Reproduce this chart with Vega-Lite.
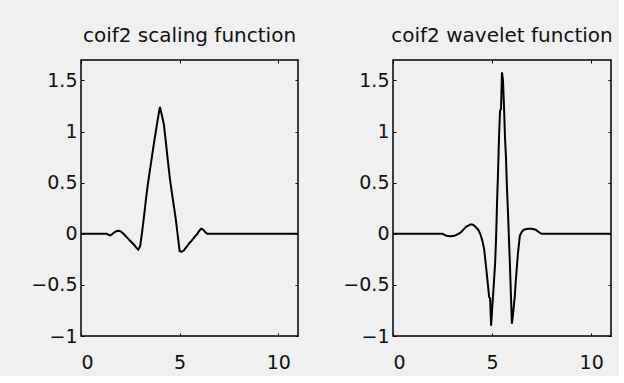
{
  "$schema": "https://vega.github.io/schema/vega-lite/v6.json",
  "background": "#f0f0f0",
  "padding": {"left": 30, "top": 24, "right": 5, "bottom": 3},
  "datasets": {
    "scaling": [
      {"t": 0, "v": 0}, {"t": 1.3, "v": 0}, {"t": 1.4, "v": -0.01}, {"t": 1.5, "v": -0.015}, {"t": 1.6, "v": 0.0},
      {"t": 1.7, "v": 0.015}, {"t": 1.8, "v": 0.025}, {"t": 1.9, "v": 0.03}, {"t": 2.0, "v": 0.025}, {"t": 2.1, "v": 0.01},
      {"t": 2.2, "v": -0.01}, {"t": 2.3, "v": -0.03}, {"t": 2.4, "v": -0.05}, {"t": 2.5, "v": -0.07}, {"t": 2.6, "v": -0.09},
      {"t": 2.7, "v": -0.11}, {"t": 2.8, "v": -0.135}, {"t": 2.9, "v": -0.155}, {"t": 3.0, "v": -0.12}, {"t": 3.1, "v": 0.02},
      {"t": 3.2, "v": 0.18}, {"t": 3.3, "v": 0.35}, {"t": 3.4, "v": 0.5}, {"t": 3.5, "v": 0.63}, {"t": 3.6, "v": 0.76},
      {"t": 3.7, "v": 0.89}, {"t": 3.8, "v": 1.01}, {"t": 3.9, "v": 1.13}, {"t": 4.0, "v": 1.24}, {"t": 4.1, "v": 1.16},
      {"t": 4.2, "v": 1.07}, {"t": 4.3, "v": 0.9}, {"t": 4.4, "v": 0.72}, {"t": 4.5, "v": 0.55}, {"t": 4.6, "v": 0.41},
      {"t": 4.7, "v": 0.28}, {"t": 4.8, "v": 0.15}, {"t": 4.9, "v": -0.01}, {"t": 5.0, "v": -0.17}, {"t": 5.1, "v": -0.175},
      {"t": 5.2, "v": -0.165}, {"t": 5.3, "v": -0.14}, {"t": 5.4, "v": -0.115}, {"t": 5.5, "v": -0.09}, {"t": 5.6, "v": -0.07},
      {"t": 5.7, "v": -0.045}, {"t": 5.8, "v": -0.02}, {"t": 5.9, "v": 0.0}, {"t": 6.0, "v": 0.03}, {"t": 6.1, "v": 0.05},
      {"t": 6.2, "v": 0.04}, {"t": 6.3, "v": 0.015}, {"t": 6.4, "v": 0.0}, {"t": 11, "v": 0}
    ],
    "wavelet": [
      {"t": 0, "v": 0}, {"t": 2.5, "v": 0}, {"t": 2.6, "v": -0.01}, {"t": 2.7, "v": -0.02}, {"t": 2.9, "v": -0.025},
      {"t": 3.1, "v": -0.02}, {"t": 3.2, "v": -0.01}, {"t": 3.3, "v": 0.0}, {"t": 3.4, "v": 0.01}, {"t": 3.5, "v": 0.03},
      {"t": 3.6, "v": 0.05}, {"t": 3.7, "v": 0.07}, {"t": 3.8, "v": 0.08}, {"t": 3.9, "v": 0.09}, {"t": 4.0, "v": 0.09},
      {"t": 4.1, "v": 0.08}, {"t": 4.2, "v": 0.06}, {"t": 4.3, "v": 0.04}, {"t": 4.4, "v": 0.0}, {"t": 4.5, "v": -0.06},
      {"t": 4.6, "v": -0.15}, {"t": 4.7, "v": -0.33}, {"t": 4.8, "v": -0.52}, {"t": 4.85, "v": -0.62}, {"t": 4.9, "v": -0.63},
      {"t": 4.95, "v": -0.9}, {"t": 5.0, "v": -0.75}, {"t": 5.05, "v": -0.6}, {"t": 5.1, "v": -0.45}, {"t": 5.15, "v": -0.3},
      {"t": 5.2, "v": -0.05}, {"t": 5.25, "v": 0.3}, {"t": 5.3, "v": 0.6}, {"t": 5.35, "v": 0.95}, {"t": 5.4, "v": 1.2},
      {"t": 5.45, "v": 1.22}, {"t": 5.5, "v": 1.58}, {"t": 5.55, "v": 1.5}, {"t": 5.6, "v": 1.25}, {"t": 5.65, "v": 0.95},
      {"t": 5.7, "v": 0.75}, {"t": 5.75, "v": 0.45}, {"t": 5.8, "v": 0.22}, {"t": 5.85, "v": -0.05}, {"t": 5.9, "v": -0.3},
      {"t": 5.95, "v": -0.6}, {"t": 6.0, "v": -0.88}, {"t": 6.05, "v": -0.8}, {"t": 6.1, "v": -0.7}, {"t": 6.15, "v": -0.6},
      {"t": 6.2, "v": -0.45}, {"t": 6.3, "v": -0.2}, {"t": 6.4, "v": -0.02}, {"t": 6.5, "v": 0.02}, {"t": 6.6, "v": 0.04},
      {"t": 6.8, "v": 0.05}, {"t": 7.0, "v": 0.05}, {"t": 7.2, "v": 0.04}, {"t": 7.4, "v": 0.01}, {"t": 7.5, "v": 0.0},
      {"t": 11, "v": 0}
    ]
  },
  "spacing": 42,
  "hconcat": [
    {
      "width": 217,
      "height": 276,
      "title": "coif2 scaling function",
      "data": {"name": "scaling"},
      "layer": [
        {
          "mark": {"type": "line", "color": "#000", "strokeWidth": 2, "clip": true},
          "encoding": {
            "x": {"field": "t", "type": "quantitative", "scale": {"domain": [0, 11], "nice": false, "zero": false},
                  "axis": {"orient": "bottom", "values": [0, 5, 10], "title": null, "labelPadding": 20}},
            "y": {"field": "v", "type": "quantitative", "scale": {"domain": [-1, 1.7], "nice": false, "zero": false},
                  "axis": {"orient": "left", "values": [-1, -0.5, 0, 0.5, 1, 1.5], "format": "~g", "title": null}}
          }
        },
        {
          "mark": {"type": "line", "strokeOpacity": 0},
          "encoding": {
            "x": {"field": "t", "type": "quantitative", "scale": {"domain": [0, 11], "nice": false, "zero": false},
                  "axis": {"orient": "top", "values": [0, 5, 10], "labels": false, "title": null}},
            "y": {"field": "v", "type": "quantitative", "scale": {"domain": [-1, 1.7], "nice": false, "zero": false},
                  "axis": {"orient": "right", "values": [-1, -0.5, 0, 0.5, 1, 1.5], "labels": false, "title": null}}
          }
        }
      ],
      "resolve": {"axis": {"x": "independent", "y": "independent"}}
    },
    {
      "width": 218,
      "height": 276,
      "title": "coif2 wavelet function",
      "data": {"name": "wavelet"},
      "layer": [
        {
          "mark": {"type": "line", "color": "#000", "strokeWidth": 2, "clip": true},
          "encoding": {
            "x": {"field": "t", "type": "quantitative", "scale": {"domain": [0, 11], "nice": false, "zero": false},
                  "axis": {"orient": "bottom", "values": [0, 5, 10], "title": null, "labelPadding": 20}},
            "y": {"field": "v", "type": "quantitative", "scale": {"domain": [-1, 1.7], "nice": false, "zero": false},
                  "axis": {"orient": "left", "values": [-1, -0.5, 0, 0.5, 1, 1.5], "format": "~g", "title": null}}
          }
        },
        {
          "mark": {"type": "line", "strokeOpacity": 0},
          "encoding": {
            "x": {"field": "t", "type": "quantitative", "scale": {"domain": [0, 11], "nice": false, "zero": false},
                  "axis": {"orient": "top", "values": [0, 5, 10], "labels": false, "title": null}},
            "y": {"field": "v", "type": "quantitative", "scale": {"domain": [-1, 1.7], "nice": false, "zero": false},
                  "axis": {"orient": "right", "values": [-1, -0.5, 0, 0.5, 1, 1.5], "labels": false, "title": null}}
          }
        }
      ],
      "resolve": {"axis": {"x": "independent", "y": "independent"}}
    }
  ],
  "config": {
    "view": {"stroke": "#000", "strokeWidth": 1.5, "fill": "#f0f0f0"},
    "axis": {"domain": false, "grid": false, "tickColor": "#000", "tickSize": -3, "tickWidth": 1, "labelPadding": 7,
             "labelFont": "DejaVu Sans", "labelFontSize": 19, "labelColor": "#111"},
    "title": {"font": "DejaVu Sans", "fontSize": 20, "fontWeight": "normal", "color": "#111", "offset": 14}
  }
}
